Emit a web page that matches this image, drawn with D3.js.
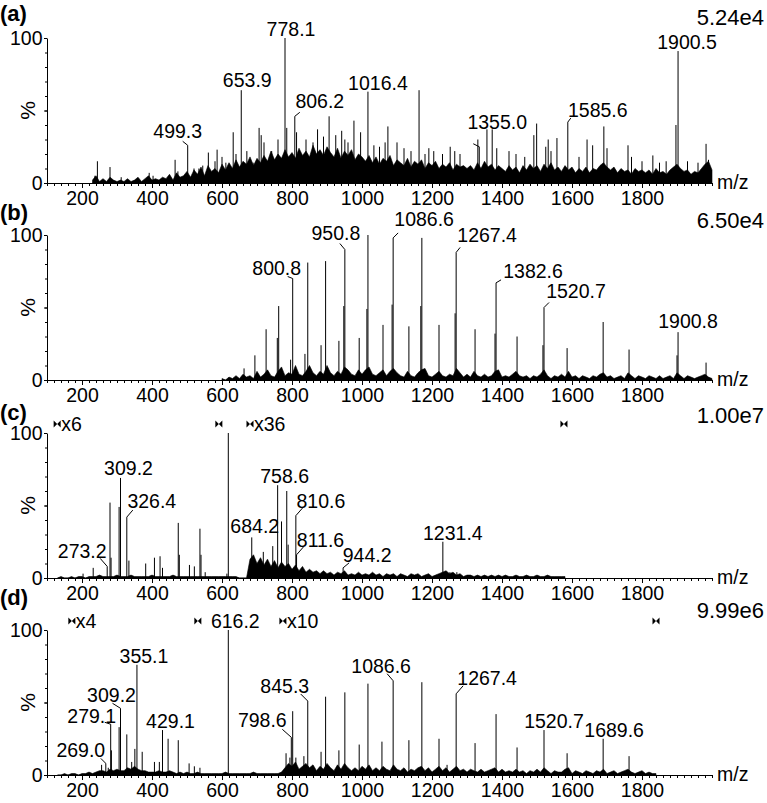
<!DOCTYPE html>
<meta charset="utf-8">
<script src="https://cdn.jsdelivr.net/npm/d3@7"></script>
<style>
  body { margin: 0; background: #fff; }
  text { font-family: "Liberation Sans", Arial, sans-serif; fill: #000; }
</style>
<body>
<div id="chart"></div>
<script>
// ---- data: [m/z, %] sticks, noise envelopes (every 10 m/z), labels ----
var peaksA = [[237,5],[244,15],[280,11],[312,4],[392,7],[403,5],[466,16],[474,8],[502,26],[520,10],[534,10],[545,12],
  [561,21],[580,15],[586,23],[600,18],[611,14],[632,35],[640,20],[655,64],[671,22],[689,14],[706,38],[712,33],[720,28],
  [742,22],[760,30],[780,100],[785,38],[808,46],[813,35],[840,30],[860,28],[873,37],[890,32],[906,46],[925,33],
  [942,36],[951,30],[960,28],[977,43],[996,35],[1017,63],[1034,26],[1050,25],[1066,28],[1074,39],[1100,28],
  [1120,24],[1140,22],[1163,64],[1180,20],[1191,24],[1205,22],[1230,20],[1252,25],[1265,22],[1280,20],[1331,30],
  [1335,25],[1357,37],[1372,37],[1385,24],[1420,22],[1440,20],[1465,18],[1491,33],[1499,41],[1525,25],[1532,30],
  [1540,22],[1557,31],[1588,42],[1620,18],[1643,30],[1659,26],[1691,39],[1700,24],[1760,26],[1770,18],[1800,15],
  [1831,19],[1850,14],[1869,15],[1897,40],[1903,91],[1930,15],[1960,14],[1983,27],[1990,16]];
var noiseA = [2,5,1,3,1,4,2,1, 2,1,3,1,2,4,1,3,5,2, 3,2,4,3,6,2,7,4,5,8, 4,9,6,11,5,12,8,10,7,13,
  9,14,10,16,11,15,13,18,12,17, 14,19,15,22,16,20,17,23,18,21, 17,24,19,22,18,26,20,23,19,25,
  21,18,24,17,22,19,23,16,20,18, 15,19,14,18,13,17,15,19,12,16, 14,12,17,11,15,13,16,10,14,12,
  15,10,13,11,14,9,13,11,12,10, 12,9,14,10,15,11,13,9,12,10, 8,12,9,11,7,12,9,13,10,12,
  8,13,10,14,9,11,8,12,9,11, 7,10,8,11,7,10,9,12,14,11, 9,11,7,10,8,9,6,10,8,9,
  7,9,6,10,7,8,6,9,11,13, 10,8,9,6,8,7,10,13,15,9];
var labelsA = [["499.3",502],["653.9",655],["778.1",780],["806.2",808],["1016.4",1017],["1355.0",1335],["1585.6",1588],["1900.5",1903]];

var peaksB = [[663,8],[694,17],[726,35],[758,29],[762,51],[796,14],[802,70],[837,18],[845,81],[883,24],[896,82],
  [934,27],[948,51],[951,90],[992,29],[1014,49],[1017,100],[1060,38],[1086,52],[1089,98],[1134,37],[1168,51],
  [1171,98],[1220,38],[1266,46],[1269,88],[1323,35],[1380,32],[1383,67],[1443,30],[1517,24],[1520,50],[1586,22],
  [1689,40],[1763,21],[1900,17],[1903,33],[1983,12]];
var noiseB = [1,0,2,1,3,1,4,2,3,1, 6,2,4,7,3,2,6,9,3,5, 4,10,4,3,6,10,5,3,6,4, 10,5,3,6,4,9,7,4,3,7,
  4,7,9,4,3,5,7,3,6,8, 5,3,2,6,3,2,5,7,8,3, 2,4,6,3,2,4,3,8,5,2, 4,2,6,3,2,4,2,3,6,7,
  2,3,2,4,6,3,2,3,1,3, 2,4,7,3,1,3,2,4,2,6, 2,3,1,3,2,1,3,2,4,5, 2,3,1,2,3,1,5,3,1,3,
  2,1,3,2,1,3,1,2,3,1, 5,3,1,3,2,1,2,3,4,2,1];
var labelsB = [["800.8",802],["950.8",951],["1086.6",1089],["1267.4",1269],["1382.6",1383],["1520.7",1520],["1900.8",1903]];

var peaksC = [[203,3],[232,7],[272,8],[280,52],[283,14],[306,49],[310,69],[328,42],[334,12],[382,10],[407,14],
  [423,15],[430,7],[475,38],[478,16],[507,9],[521,8],[537,34],[540,16],[552,4],[614,3],[618,100],[685,28],[690,15],
  [718,18],[745,22],[759,64],[770,39],[785,60],[789,23],[811,43],[813,16],[946,7],[1231,25],[1251,4],[1271,4]];
var noiseC = [0,1,0,0,1,0,1,1,0,1, 1,1,2,1,1,1,1,2,1,1, 1,2,1,1,1,1,1,2,1,1, 1,1,1,2,1,1,1,1,1,1,
  1,1,1,1,1,1,1,1, 1,1,1,1,0,0,0,
  13,16,10,14,9,13,8,12,7,11, 8,10,6,9,5,8,4,6,4,5, 3,5,3,4,2,4,3,5,2,3, 2,4,2,3,2,4,2,3,1,3,
  2,3,1,3,2,1,3,2,3,1, 2,3,1,2,3,4,5,3,4,2, 3,1,2,2,1,2,1,2,1,2, 1,2,1,2,1,1,2,1,1,2,
  1,1,2,1,1,2,1,1,1,1,1];
var labelsC = [["273.2",272],["309.2",310],["326.4",328],["684.2",685],["758.6",759],["810.6",811],["811.6",813],["944.2",946],["1231.4",1231]];

var peaksD = [[256,7],[268,8],[275,5],[282,35],[284,17],[306,33],[310,46],[328,28],[342,9],[351,18],[357,76],
  [372,16],[407,9],[421,9],[430,31],[446,25],[475,24],[506,8],[521,6],[537,5],[618,100],[783,15],[794,12],
  [798,26],[802,44],[811,12],[834,13],[845,51],[883,16],[896,54],[934,17],[951,57],[992,21],[1017,63],[1057,23],
  [1089,65],[1134,24],[1171,64],[1220,25],[1243,7],[1269,56],[1323,22],[1383,42],[1443,19],[1520,31],[1586,15],
  [1689,25],[1763,13]];
var noiseD = [0,0,1,0,1,1,0,1,1,2,1,2,3, 3,2,4,3,4,3,3,5,4,6,4,3,3,2,2,
  2,3,2,2,3,2,1,2,1,2,1,1,2,1,1,1,1,1,1,1, 2,1,1,1,1,1,1,1,2,1,1,1,1,1,1,1,2,
  5,8,6,9,4,6,8,5,7,3, 6,4,8,5,3,7,4,8,5,3, 5,3,6,4,7,3,5,3,6,4, 3,7,4,3,5,2,4,3,5,6,
  3,5,2,4,6,3,5,2,4,6, 3,4,2,4,3,2,4,2,3,4, 5,2,4,2,3,2,4,2,3,1, 3,2,4,2,5,3,1,3,2,2,
  4,5,1,3,2,1,3,2,1,3, 2,4,1,2,3,1,2,3,4,2, 1,2,3,1,2,1,1];
var labelsD = [["269.0",268],["279.1",282],["309.2",310],["355.1",357],["429.1",430],["616.2",618],["798.6",798],
  ["845.3",845],["1086.6",1089],["1267.4",1269],["1520.7",1520],["1689.6",1689]];

var magC = [[129, 591, "x6"], [680, 1577, "x36"]];
var magD = [[171, 531, "x4"], [774, 1840, "x10"]];

// ---- layout ----
// label nudges: [dx, dy above peak top, leader dx, leader dy]
var nudgeA = [[-10,7,-5,-4],[6,3],[6,2],[25,8,5,-4],[10,2],[18,18,-6,-3],[30,5,3,-4],[9,2]];
var nudgeB = [[-16,4,-5,-2],[-9,10,-5,-6],[31,12,5,-5],[31,10,4,-5],[37,5,5,-3],[32,10,5,-5],[10,4]];
var nudgeC = [[-25,8,-7,-8],[8,3],[25,9,6,-7],[3,4],[7,2],[25,8,7,-8],[24,8,7,-8],[24,6,6,-5],[10,2]];
var nudgeD = [[-25,6,-5,-5],[-19,1,-6,-2],[-9,6,-8,-5],[7,2],[8,2],[7,2],[-29,10,-9,-8],[-23,8,-7,-7],
  [-12,8,-6,-7],[31,9,7,-8],[10,2],[11,2]];

var panels = [
  {tag:"(a)", peaks:peaksA, noise:noiseA, start:230, labels:labelsA, nudge:nudgeA, mags:[], scale:"5.24e4", y0:183, tagY:21, scaleY:25},
  {tag:"(b)", peaks:peaksB, noise:noiseB, start:600, labels:labelsB, nudge:nudgeB, mags:[], scale:"6.50e4", y0:380, tagY:220, scaleY:228},
  {tag:"(c)", peaks:peaksC, noise:noiseC, start:130, labels:labelsC, nudge:nudgeC, mags:magC, scale:"1.00e7", y0:578, tagY:420, scaleY:423},
  {tag:"(d)", peaks:peaksD, noise:noiseD, start:130, labels:labelsD, nudge:nudgeD, mags:magD, scale:"9.99e6", y0:775, tagY:605, scaleY:618}
];

var width = 767, height = 803, plotH = 145;

var svg = d3.select("#chart").append("svg")
    .attr("width", width)
    .attr("height", height);

var x = d3.scaleLinear().domain([100, 2000]).range([47, 712]);

panels.forEach(function(p) {
  var y = d3.scaleLinear().domain([0, 100]).range([p.y0, p.y0 - plotH]);
  var g = svg.append("g");

  // noise envelope
  var pts = p.noise.map(function(v, i) { return [p.start + i * 10, v]; });
  g.append("path")
    .datum(pts)
    .attr("fill", "#000")
    .attr("stroke", "#000")
    .attr("stroke-width", 0.6)
    .attr("d", d3.area().x(function(d) { return x(d[0]); }).y0(y(0)).y1(function(d) { return y(d[1]); }));

  // sticks
  g.selectAll(".pk")
    .data(p.peaks)
    .join("line")
    .attr("class", "pk")
    .attr("x1", function(d) { return x(d[0]); })
    .attr("x2", function(d) { return x(d[0]); })
    .attr("y1", y(0))
    .attr("y2", function(d) { return y(d[1]); })
    .attr("stroke", "#000")
    .attr("stroke-width", 1);

  // x axis: minor then major
  g.append("g")
    .attr("transform", "translate(0," + p.y0 + ")")
    .call(d3.axisBottom(x).tickValues(d3.range(100, 2001, 20)).tickSize(3).tickFormat(""))
    .call(function(a) { a.select(".domain").remove(); });
  g.append("g")
    .attr("transform", "translate(0," + p.y0 + ")")
    .call(d3.axisBottom(x).tickValues(d3.range(200, 1801, 200)).tickSize(5).tickSizeOuter(0).tickPadding(3)
      .tickFormat(d3.format("d")))
    .call(function(a) {
      a.selectAll("text").style("font-size", "19.5px").style("font-family", "Liberation Sans, Arial, sans-serif");
    });

  // y axis
  g.append("g")
    .attr("transform", "translate(" + x(100) + ",0)")
    .call(d3.axisLeft(y).tickValues(d3.range(0, 101, 10)).tickSize(2).tickFormat(""))
    .call(function(a) { a.select(".domain").remove(); });
  g.append("g")
    .attr("transform", "translate(" + x(100) + ",0)")
    .call(d3.axisLeft(y).tickValues([0, 50, 100]).tickSize(3).tickSizeOuter(0).tickPadding(1.5)
      .tickFormat(function(d) { return d === 50 ? "" : d; }))
    .call(function(a) {
      a.selectAll("text").style("font-size", "19.5px").style("font-family", "Liberation Sans, Arial, sans-serif");
    });

  g.append("text")
    .attr("transform", "translate(28," + y(50) + ") rotate(-90)")
    .attr("text-anchor", "middle")
    .attr("dy", "0.35em")
    .style("font-size", "21px")
    .text("%");

  g.append("text")
    .attr("x", 717).attr("y", p.y0 + 6)
    .style("font-size", "19.5px")
    .text("m/z");

  g.append("text")
    .attr("x", 0).attr("y", p.tagY)
    .style("font-size", "22px").style("font-weight", "bold")
    .text(p.tag);

  g.append("text")
    .attr("x", 764).attr("y", p.scaleY)
    .attr("text-anchor", "end")
    .style("font-size", "22px")
    .text(p.scale);

  // peak labels
  var lookup = new Map(p.peaks.map(function(d) { return [d[0], d[1]]; }));
  p.labels.forEach(function(l, i) {
    var n = p.nudge[i];
    var px = x(l[1]), py = y(lookup.get(l[1]));
    g.append("text")
      .attr("x", px + n[0]).attr("y", py - n[1])
      .attr("text-anchor", "middle")
      .style("font-size", "19.5px")
      .text(l[0]);
    if (n.length > 2) {
      g.append("line")
        .attr("x1", px).attr("y1", py)
        .attr("x2", px + n[2]).attr("y2", py + n[3])
        .attr("stroke", "#000").attr("stroke-width", 1);
    }
  });

  // magnification markers
  var bow = "M-3.5,-3.5L0,0L-3.5,3.5ZM3.5,-3.5L0,0L3.5,3.5Z";
  var my = y(100) - 9;
  p.mags.forEach(function(m) {
    [m[0], m[1]].forEach(function(v) {
      g.append("path").attr("d", bow).attr("transform", "translate(" + x(v) + "," + my + ")").attr("fill", "#000");
    });
    g.append("text")
      .attr("x", x(m[0]) + 4).attr("y", my).attr("dy", "0.35em")
      .style("font-size", "19.5px")
      .text(m[2]);
  });
});
</script>
</body>
